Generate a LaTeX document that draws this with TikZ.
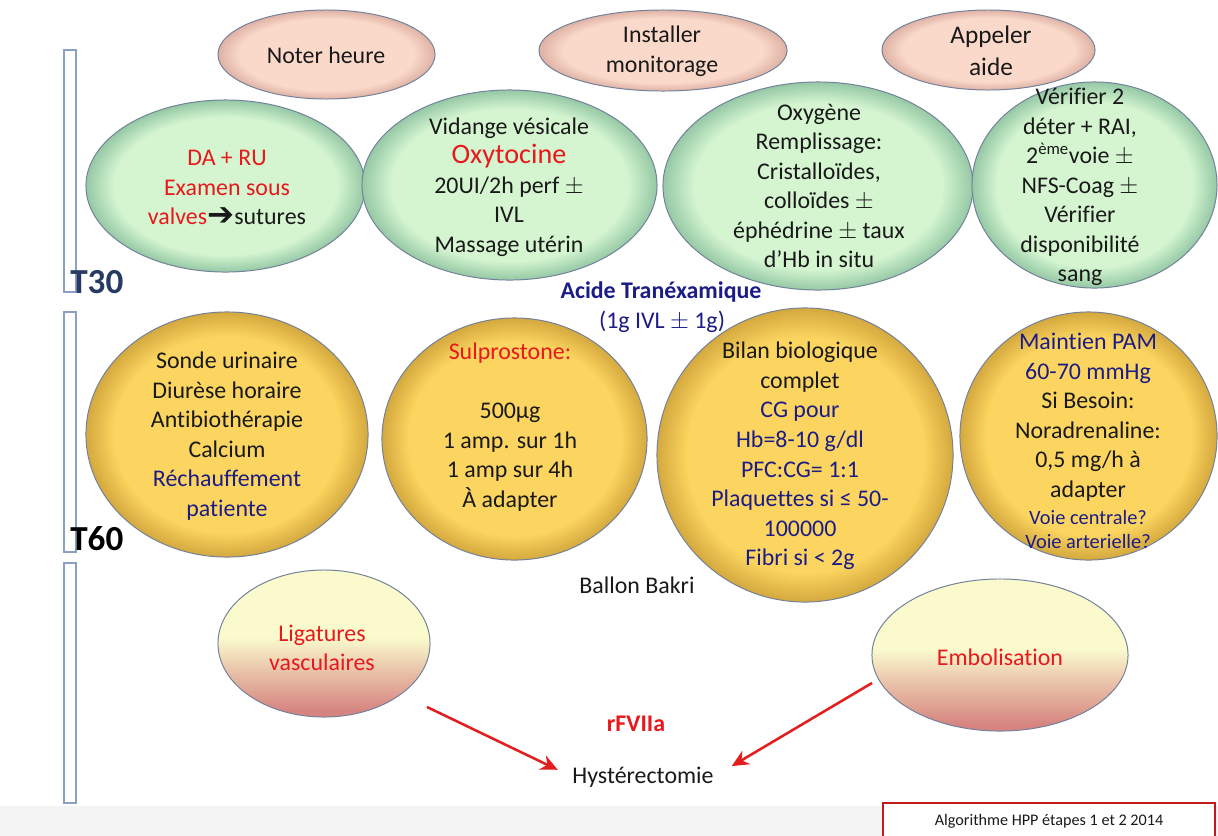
\documentclass[tikz,border=0pt]{standalone}
\usepackage{fontspec}
\setmainfont{Carlito}[Ligatures=NoCommon]
\newfontfamily\djv{DejaVu Sans}
\usetikzlibrary{shapes.geometric,arrows.meta}

\definecolor{pkfill}{RGB}{250,217,202}
\definecolor{pkedge}{RGB}{222,178,165}
\definecolor{grfill}{RGB}{212,245,208}
\definecolor{gredge}{RGB}{150,200,165}
\definecolor{yefill}{RGB}{251,213,95}
\definecolor{yeedge}{RGB}{212,168,62}
\definecolor{bordc}{RGB}{115,130,155}
\definecolor{txtc}{RGB}{25,25,25}
\definecolor{redt}{RGB}{232,24,28}
\definecolor{navy}{RGB}{28,28,135}
\definecolor{tthirty}{RGB}{38,58,100}
\definecolor{lyel}{RGB}{250,250,205}
\definecolor{lred}{RGB}{214,132,128}
\colorlet{lmid}{lred!50!lyel}
\definecolor{barc}{RGB}{140,160,195}
\definecolor{arrc}{RGB}{228,30,30}
\definecolor{footbg}{RGB}{243,243,243}

\pgfdeclareradialshading{pkshade}{\pgfpoint{0bp}{0bp}}{color(0bp)=(pkfill); color(20bp)=(pkfill); color(25bp)=(pkedge); color(50bp)=(pkedge)}
\pgfdeclareradialshading{grshade}{\pgfpoint{0bp}{0bp}}{color(0bp)=(grfill); color(20bp)=(grfill); color(25bp)=(gredge); color(50bp)=(gredge)}
\pgfdeclareradialshading{yeshade}{\pgfpoint{0bp}{0bp}}{color(0bp)=(yefill); color(20bp)=(yefill); color(25bp)=(yeedge); color(50bp)=(yeedge)}
\pgfdeclareverticalshading{botshade}{100bp}{color(0bp)=(lred); color(27bp)=(lred); color(40bp)=(lmid); color(52bp)=(lyel); color(100bp)=(lyel)}

\newcommand\pmx{$\pm$}
\newcommand\smallnavy[1]{{\fontsize{14.5}{17}\selectfont\color{navy}#1}}

\tikzset{
  sz/.style 2 args={minimum width={#1*0.05cm}, minimum height={#2*0.05cm}},
  ellb/.style={ellipse, draw=bordc, line width=0.7pt, inner sep=0pt},
  pk/.style={ellb, shading=pkshade},
  gr/.style={ellb, shading=grshade},
  ye/.style={ellb, shading=yeshade},
  bo/.style={ellb, shading=botshade},
  txt/.style={align=center, text=txtc, font=\fontsize{17}{21}\selectfont, inner sep=0pt},
  tlabel/.style={anchor=base west, inner sep=0pt, font=\fontsize{25}{30}\selectfont\bfseries},
  bar/.style={draw=barc, fill=white, line width=0.8pt},
  rarr/.style={draw=arrc, line width=1.8pt, -{Stealth[length=12pt,width=11pt]}},
}

\begin{document}
\begin{tikzpicture}[x=0.025cm, y=-0.025cm]
\useasboundingbox (0,0) rectangle (1218,836);
\fill[white] (0,0) rectangle (1218,836);
\fill[footbg] (0,806) rectangle (1218,836);

% time bars
\draw[bar] (64,50) rectangle (76,292);
\draw[bar] (64,312) rectangle (76,552);
\draw[bar] (64,563) rectangle (76,803);
\node[tlabel, text=tthirty] (t30) at (70,293) {T30};
\node[tlabel, text=black] (t60) at (70,550) {T60};

% top row
\node[pk, sz={108.5}{44.5}] (noterE) at (326.5,54.5) {};
\node[pk, sz={124}{40.5}] (instE) at (663,50.5) {};
\node[pk, sz={106.5}{40}] (appelE) at (988.5,50) {};
\node[txt] (noter) at (326,55) {Noter heure};
\node[txt] (instal) at (662,51) {Installer\\monitorage};
\node[txt, font=\fontsize{18}{23}\selectfont] (appel) at (991,51) {Appeler\\aide};

% green row
\node[gr, sz={139.5}{86}] (g1) at (225.5,186) {};
\node[gr, sz={147.5}{95}] (g2) at (509.5,185) {};
\node[gr, sz={155}{104}] (g3) at (818,186) {};
\node[gr, sz={122.5}{103}] (g4) at (1094.5,185) {};
\node[txt, text=redt] (g1t) at (227,188) {DA + RU\\Examen sous\\valves{\color{txtc}\djv\bfseries\fontsize{23}{21}\selectfont\raisebox{-0.3pt}{➔}}{\color{txtc}sutures}};
\node[txt] (g2t) at (509,187) {Vidange vésicale\\{\color{redt}\fontsize{20}{23}\selectfont Oxytocine}\\20UI/2h perf \pmx\\IVL\\Massage utérin};
\node[txt] (g3t) at (819,186) {Oxygène\\Remplissage:\\Cristalloïdes,\\colloïdes \pmx\\éphédrine \pmx{} taux\\d’Hb in situ};
\node[txt] (g4t) at (1080,187) {Vérifier 2\\déter + RAI,\\2\textsuperscript{ème}voie \pmx\\NFS-Coag \pmx\\Vérifier\\disponibilité\\sang};

% tranexamic
\node[inner sep=0pt, anchor=base, text=navy, font=\fontsize{17}{20}\selectfont\bfseries] (acide) at (661,298) {Acide Tranéxamique};
\node[inner sep=0pt, anchor=base, text=navy, font=\fontsize{17}{20}\selectfont] (dose) at (662,328) {(1g IVL \pmx{} 1g)};

% yellow row
\node[ye, sz={141}{122.5}] (y1) at (227,434.5) {};
\node[ye, sz={132.5}{121}] (y2) at (514.5,439) {};
\node[ye, sz={148}{147}] (y3) at (805,455) {};
\node[ye, sz={128.5}{124}] (y4) at (1088.5,436) {};
\node[txt] (y1t) at (227,436) {Sonde urinaire\\Diurèse horaire\\Antibiothérapie\\Calcium\\{\color{navy}Réchauffement}\\{\color{navy}patiente}};
\node[txt] (y2t) at (510,427) {{\color{redt}Sulprostone:}\\\mbox{}\\500µg\\1 amp. sur 1h\\1 amp sur 4h\\À adapter};
\node[txt] (y3t) at (800,456) {Bilan biologique\\complet\\{\color{navy}CG pour}\\{\color{navy}Hb=8-10 g/dl}\\{\color{navy}PFC:CG= 1:1}\\{\color{navy}Plaquettes si ≤ 50-}\\{\color{navy}100000}\\{\color{navy}Fibri si < 2g}};
\node[txt] (y4t) at (1088,441) {{\color{navy}Maintien PAM}\\{\color{navy}60-70 mmHg}\\Si Besoin:\\Noradrenaline:\\0,5 mg/h à\\adapter\\[-2pt]\smallnavy{Voie centrale?}\\[-3.5pt]\smallnavy{Voie arterielle?}};

% bottom
\node[inner sep=0pt, anchor=base, text=txtc, font=\fontsize{17}{20}\selectfont] (bakri) at (637,593) {Ballon Bakri};
\node[bo, sz={106}{73.5}] (lig) at (324,643.5) {};
\node[bo, sz={128}{76}] (emb) at (1000,655) {};
\node[txt, text=redt] (ligt) at (322,648) {Ligatures\\vasculaires};
\node[txt, text=redt] (embt) at (1000,657) {Embolisation};
\node[inner sep=0pt, anchor=base, text=redt, font=\fontsize{17}{20}\selectfont\bfseries] (rf) at (636,731) {rFVIIa};
\node[inner sep=0pt, anchor=base, text=txtc, font=\fontsize{17}{20}\selectfont] (hyst) at (643,783) {Hystérectomie};

\coordinate (a1s) at (427,707);
\coordinate (a2s) at (872,683);
\draw[rarr, shorten >=0.40cm] (a1s) -- (hyst.west);
\draw[rarr, shorten >=0.52cm] (a2s) -- (hyst.east);

% footer
\node[draw=arrc!85!black, fill=white, line width=0.8pt, minimum width=8.3cm, minimum height=0.9cm, inner sep=0pt, text=txtc, font=\fontsize{11.5}{14}\selectfont] (foot) at (1049,821) {Algorithme HPP étapes 1 et 2 2014};
\end{tikzpicture}
\end{document}
